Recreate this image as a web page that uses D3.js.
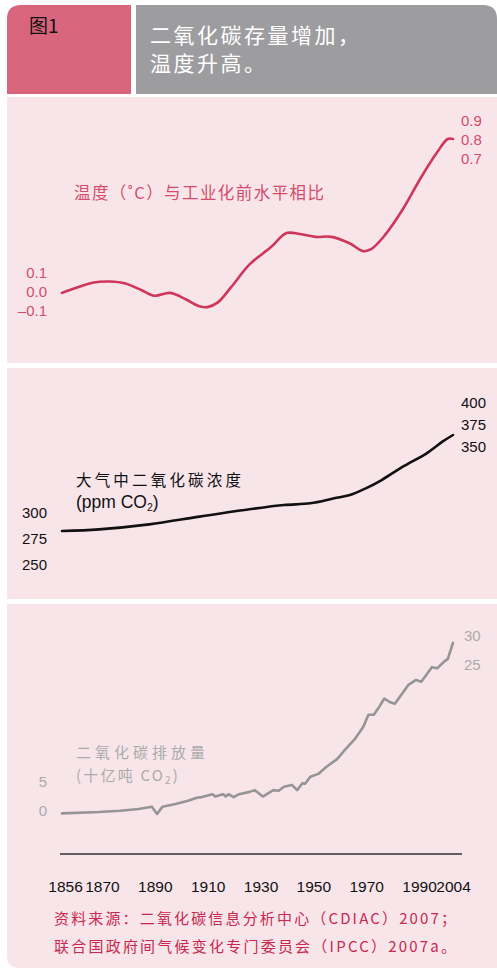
<!DOCTYPE html>
<html>
<head>
<meta charset="utf-8">
<script src="https://cdn.jsdelivr.net/npm/d3@7"></script>
<style>
  html, body { margin: 0; padding: 0; background: #ffffff; }
  svg { display: block; }
</style>
</head>
<body>
<svg id="chart" width="497" height="971"></svg>
<script>
// ---------------- DATA ----------------
const xTickYears = [1856, 1870, 1890, 1910, 1930, 1950, 1970, 1990, 2004];

// Temperature (°C) relative to pre-industrial level
const tempYears  = [1856, 1862, 1868, 1874, 1880, 1886, 1891, 1897, 1903, 1908, 1911, 1915, 1920, 1927, 1935, 1941, 1946, 1952, 1958, 1965, 1970, 1973, 1978, 1985, 1992, 1998, 2002, 2004];
const tempValues = [-0.01, 0.02, 0.045, 0.05, 0.04, 0.005, -0.025, -0.01, -0.045, -0.08, -0.085, -0.06, 0.02, 0.14, 0.23, 0.305, 0.30, 0.285, 0.285, 0.25, 0.21, 0.22, 0.29, 0.43, 0.60, 0.73, 0.80, 0.80];
const tempTicksLeft  = [0.1, 0.0, -0.1];
const tempTicksRight = [0.9, 0.8, 0.7];

// Atmospheric CO2 concentration (ppm)
const co2Years  = [1856, 1870, 1889, 1908, 1927, 1940, 1950, 1959, 1965, 1971, 1977, 1985, 1994, 2000, 2004];
const co2Values = [285, 286.6, 291.4, 298.8, 305.9, 310, 311.6, 316.4, 319.6, 326, 334, 346.8, 359.7, 370.9, 377.3];
const co2TicksLeft  = [300, 275, 250];
const co2TicksRight = [400, 375, 350];

// CO2 emissions (billion tonnes CO2)
const emisYears  = [1856, 1870, 1878, 1885, 1890, 1892, 1894, 1899, 1904, 1907, 1909, 1913, 1914, 1917, 1918, 1919, 1921, 1923, 1927, 1929, 1932, 1936, 1938, 1940, 1943, 1945, 1947, 1948, 1950, 1953, 1956, 1960, 1961, 1963, 1967, 1970, 1972, 1974, 1976, 1978, 1980, 1982, 1987, 1990, 1992, 1996, 1998, 2001, 2002, 2004];
const emisValues = [0.2, 0.43, 0.65, 0.95, 1.35, 0.1, 1.35, 1.8, 2.4, 2.9, 3.0, 3.5, 3.1, 3.5, 3.1, 3.5, 3.0, 3.5, 3.9, 4.2, 3.1, 4.2, 4.1, 4.8, 5.1, 4.2, 5.4, 5.3, 6.5, 7.0, 8.2, 9.5, 10.0, 11.1, 13.1, 15.1, 17.2, 17.2, 18.5, 20.0, 19.4, 19.1, 22.3, 23.2, 22.9, 25.4, 25.2, 26.5, 26.8, 29.6];
const emisTicksLeft  = [5, 0];
const emisTicksRight = [30, 25];

// Texts
const figLabel = "图1";
const titleLines = ["二氧化碳存量增加，", "温度升高。"];
const tempTitle = "温度（˚C）与工业化前水平相比";
const co2Title = "大气中二氧化碳浓度";
const emisTitle = "二氧化碳排放量";
const sourceLines = ["资料来源：二氧化碳信息分析中心（CDIAC）2007；", "联合国政府间气候变化专门委员会（IPCC）2007a。"];

// ---------------- STYLE ----------------
const C = {
  pinkHead: "#d9657d", greyHead: "#9d9d9f", panel: "#f8e5ea",
  tempLine: "#cf365b", tempText: "#d54c6b",
  co2: "#111111", emisLine: "#959595", emisText: "#ababab",
  axis: "#333333", source: "#c8284f"
};
const LATIN = "'Liberation Sans', Arial, sans-serif";
const CJK = "'Noto Sans CJK SC', 'Noto Sans', sans-serif";

const svg = d3.select("#chart");

function roundedRect(x, y, w, h, r) {
  const [tl, tr, br, bl] = r;
  return `M${x + tl},${y} H${x + w - tr} Q${x + w},${y} ${x + w},${y + tr} V${y + h - br} Q${x + w},${y + h} ${x + w - br},${y + h} H${x + bl} Q${x},${y + h} ${x},${y + h - bl} V${y + tl} Q${x},${y} ${x + tl},${y} Z`;
}

// ---------------- HEADER ----------------
svg.append("path").attr("d", roundedRect(7, 5, 124, 89, [14, 0, 0, 0])).attr("fill", C.pinkHead);
svg.append("path").attr("d", roundedRect(136, 5, 361, 89, [0, 14, 0, 0])).attr("fill", C.greyHead);
svg.append("text").attr("x", 29).attr("y", 24).attr("dominant-baseline", "central")
  .attr("font-family", CJK).attr("font-size", 19).attr("fill", "#111").text(figLabel);
titleLines.forEach((t, i) => {
  svg.append("text").attr("x", 150).attr("y", 33.5 + i * 28.5).attr("dominant-baseline", "central")
    .attr("font-family", CJK).attr("font-size", 21).attr("letter-spacing", 2.5)
    .attr("fill", "#ffffff").text(t);
});

// ---------------- PANELS ----------------
svg.append("path").attr("d", roundedRect(7, 97, 490, 266, [0, 0, 0, 0])).attr("fill", C.panel);
svg.append("path").attr("d", roundedRect(7, 368, 490, 231, [0, 0, 0, 0])).attr("fill", C.panel);
svg.append("path").attr("d", roundedRect(7, 604, 490, 364, [0, 0, 0, 12])).attr("fill", C.panel);

// ---------------- SCALES ----------------
const x = d3.scaleLinear().domain([1856, 2004]).range([62, 453]);
const yTemp = d3.scaleLinear().domain([0, 0.8]).range([291, 139]);
const yCo2 = d3.scaleLinear().domain([285, 377.3]).range([531, 435]);
const yEmis = d3.scaleLinear().domain([0, 30]).range([814.5, 640.5]);

const leftLabelX = 47, rightLabelX = 461;
function addLabels(vals, xPos, anchor, yFn, fmt, color) {
  svg.append("g").selectAll("text").data(vals).join("text")
    .attr("x", xPos).attr("y", (d, i) => yFn(d, i))
    .attr("text-anchor", anchor).attr("dominant-baseline", "central")
    .attr("font-family", LATIN).attr("font-size", 15).attr("fill", color)
    .text(fmt);
}

// ---------------- TEMPERATURE ----------------
const tempData = tempYears.map((yr, i) => ({ yr, v: tempValues[i] }));
svg.append("path").datum(tempData)
  .attr("d", d3.line().x(d => x(d.yr)).y(d => yTemp(d.v)).curve(d3.curveCatmullRom.alpha(0.5)))
  .attr("fill", "none").attr("stroke", C.tempLine).attr("stroke-width", 2.6)
  .attr("stroke-linecap", "round").attr("stroke-linejoin", "round");
const fmtTemp = v => (v < 0 ? "\u2013" : "") + Math.abs(v).toFixed(1);
addLabels(tempTicksLeft, leftLabelX, "end", d => yTemp(d), fmtTemp, C.tempText);
addLabels(tempTicksRight, rightLabelX, "start", d => yTemp(d), fmtTemp, C.tempText);
svg.append("text").attr("x", 74).attr("y", 192).attr("dominant-baseline", "central")
  .attr("font-family", CJK).attr("font-size", 16.5).attr("fill", C.tempText)
  .attr("textLength", 250).attr("lengthAdjust", "spacing").text(tempTitle);

// ---------------- CO2 CONCENTRATION ----------------
const co2Data = co2Years.map((yr, i) => ({ yr, v: co2Values[i] }));
svg.append("path").datum(co2Data)
  .attr("d", d3.line().x(d => x(d.yr)).y(d => yCo2(d.v)).curve(d3.curveCatmullRom.alpha(0.5)))
  .attr("fill", "none").attr("stroke", C.co2).attr("stroke-width", 2.6)
  .attr("stroke-linecap", "round").attr("stroke-linejoin", "round");
addLabels(co2TicksLeft, leftLabelX, "end", d => yCo2(d) - 2.5, d => d, C.co2);
const co2End = yCo2(co2Values[co2Values.length - 1]);
addLabels(co2TicksRight, rightLabelX, "start", (d, i) => co2End - 33 + i * 22.3, d => d, C.co2);
svg.append("text").attr("x", 76).attr("y", 479).attr("dominant-baseline", "central")
  .attr("font-family", CJK).attr("font-size", 15.5).attr("fill", C.co2)
  .attr("textLength", 165).attr("lengthAdjust", "spacing").text(co2Title);
const co2Unit = svg.append("text").attr("x", 76).attr("y", 502).attr("dominant-baseline", "central")
  .attr("font-family", LATIN).attr("font-size", 17.5).attr("fill", C.co2);
co2Unit.append("tspan").text("(ppm CO");
co2Unit.append("tspan").attr("font-size", 10.5).attr("dy", 5).text("2");
co2Unit.append("tspan").attr("dy", -5).text(")");

// ---------------- EMISSIONS ----------------
const emisData = emisYears.map((yr, i) => ({ yr, v: emisValues[i] }));
svg.append("path").datum(emisData)
  .attr("d", d3.line().x(d => x(d.yr)).y(d => yEmis(d.v)))
  .attr("fill", "none").attr("stroke", C.emisLine).attr("stroke-width", 2.6)
  .attr("stroke-linecap", "round").attr("stroke-linejoin", "round");
addLabels(emisTicksLeft, leftLabelX, "end", d => yEmis(d) - 4, d => d, C.emisText);
addLabels(emisTicksRight, rightLabelX + 3, "start", d => yEmis(d) - 5, d => d, C.emisText);
svg.append("text").attr("x", 76).attr("y", 751).attr("dominant-baseline", "central")
  .attr("font-family", CJK).attr("font-size", 15).attr("fill", C.emisText)
  .attr("textLength", 129).attr("lengthAdjust", "spacing").text(emisTitle);
const emisUnit = svg.append("text").attr("x", 76).attr("y", 774).attr("dominant-baseline", "central")
  .attr("font-family", CJK).attr("font-size", 15).attr("letter-spacing", 2.2).attr("fill", C.emisText);
emisUnit.append("tspan").text("(十亿吨 CO");
emisUnit.append("tspan").attr("font-size", 10).attr("dy", 5).text("2");
emisUnit.append("tspan").attr("dy", -5).text(")");

// ---------------- X AXIS ----------------
const xAxis = d3.axisBottom(x).tickValues(xTickYears).tickSize(0).tickPadding(0).tickFormat(d3.format("d"));
const axisG = svg.append("g").attr("transform", "translate(0,854)").call(xAxis);
axisG.select(".domain").attr("d", `M${x(1856) - 2},0H${x(2004) + 9}`)
  .attr("stroke", C.axis).attr("stroke-width", 1.6);
axisG.selectAll(".tick text")
  .attr("y", 32.5).attr("dy", null).attr("dominant-baseline", "central")
  .attr("dx", d => (d === 2004 ? 0 : 3))
  .attr("font-family", LATIN).attr("font-size", 15.5).attr("fill", "#111");

// ---------------- SOURCE ----------------
sourceLines.forEach((t, i) => {
  svg.append("text").attr("x", 54).attr("y", 917.5 + i * 28).attr("dominant-baseline", "central")
    .attr("font-family", CJK).attr("font-size", 15).attr("fill", C.source)
    .attr("textLength", 402).attr("lengthAdjust", "spacing").text(t);
});
</script>
</body>
</html>
